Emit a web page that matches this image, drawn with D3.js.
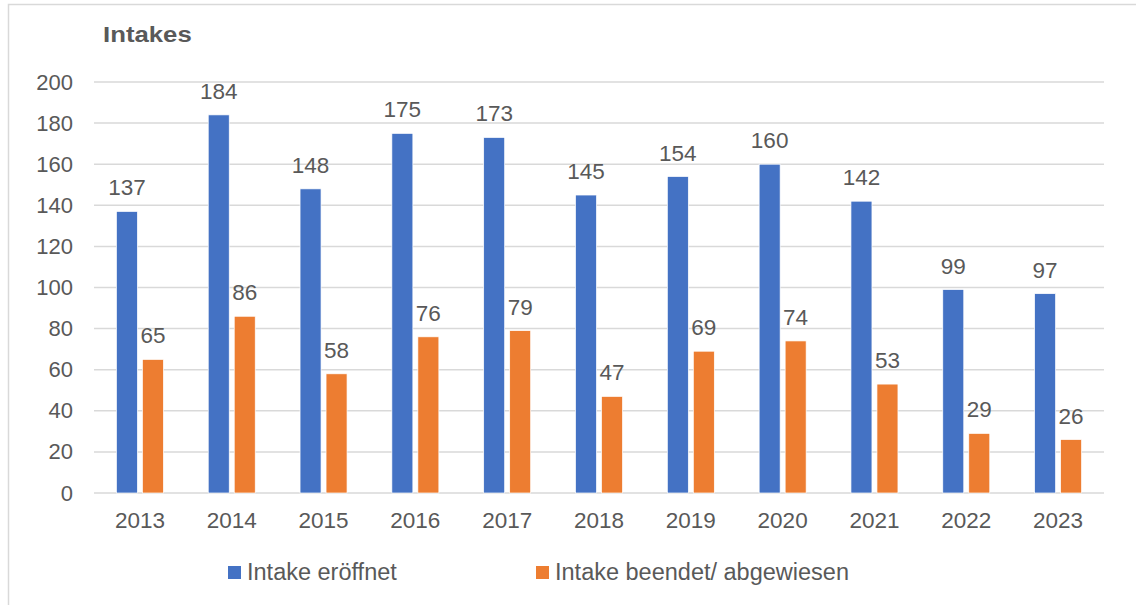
<!DOCTYPE html>
<html><head><meta charset="utf-8">
<script src="https://cdn.jsdelivr.net/npm/d3@7"></script>
<style>body{margin:0;background:#fff}svg{display:block}text{font-family:"Liberation Sans",Arial,sans-serif;fill:#595959}</style>
</head><body>
<svg id="c" width="1136" height="605"></svg>
<script>
const years = ["2013","2014","2015","2016","2017","2018","2019","2020","2021","2022","2023"];
const opened = [137,184,148,175,173,145,154,160,142,99,97];
const ended = [65,86,58,76,79,47,69,74,53,29,26];
const seriesNames = ["Intake eröffnet","Intake beendet/ abgewiesen"];
const colors = ["#4472C4","#ED7D31"];
const yTicks = [0,20,40,60,80,100,120,140,160,180,200];

const svg = d3.select("#c");
svg.append("rect").attr("x",8.5).attr("y",4.5).attr("width",1300).attr("height",800)
  .attr("fill","none").attr("stroke","#d9d9d9").attr("stroke-width",1.5);

const x = d3.scaleBand().domain(years).range([94,1104]);
const y = d3.scaleLinear().domain([0,200]).range([493,82]);
const barW = 21, gap = 5;

// gridlines
svg.append("g").selectAll("line").data(yTicks).join("line")
  .attr("x1",94).attr("x2",1104).attr("y1",d=>y(d)).attr("y2",d=>y(d))
  .attr("stroke","#d9d9d9").attr("stroke-width",1.5);

// y tick labels
svg.append("g").selectAll("text").data(yTicks).join("text")
  .attr("x",73).attr("y",d=>y(d)+7.5).attr("text-anchor","end")
  .attr("font-size",22).text(d=>d);

// x labels
svg.append("g").selectAll("text").data(years).join("text")
  .attr("x",d=>x(d)+x.bandwidth()/2).attr("y",528).attr("text-anchor","middle")
  .attr("font-size",22.5).text(d=>d);

const series = [opened, ended];
series.forEach((vals,si)=>{
  const off = x.bandwidth()/2 - (barW*2+gap)/2 + si*(barW+gap);
  const g = svg.append("g");
  g.selectAll("rect").data(years).join("rect")
    .attr("x",d=>x(d)+off).attr("width",barW)
    .attr("y",(d,i)=>y(vals[i])).attr("height",(d,i)=>y(0)-y(vals[i]))
    .attr("fill",colors[si]).attr("stroke","#fff").attr("stroke-width",0.7);
  g.selectAll("text").data(years).join("text")
    .attr("x",d=>x(d)+off+barW/2).attr("y",(d,i)=>y(vals[i])-16)
    .attr("text-anchor","middle").attr("font-size",22.5).text((d,i)=>vals[i]);
});

// title
svg.append("text").attr("transform","translate(103,42) scale(1.12,1)")
  .attr("font-size",23).attr("font-weight","bold").text("Intakes");

// legend
const legX = [228,536];
seriesNames.forEach((n,i)=>{
  svg.append("rect").attr("x",legX[i]).attr("y",566).attr("width",13).attr("height",13).attr("fill",colors[i]);
  svg.append("text").attr("x",legX[i]+19).attr("y",580).attr("font-size",23.5).text(n);
});
</script>
</body></html>
